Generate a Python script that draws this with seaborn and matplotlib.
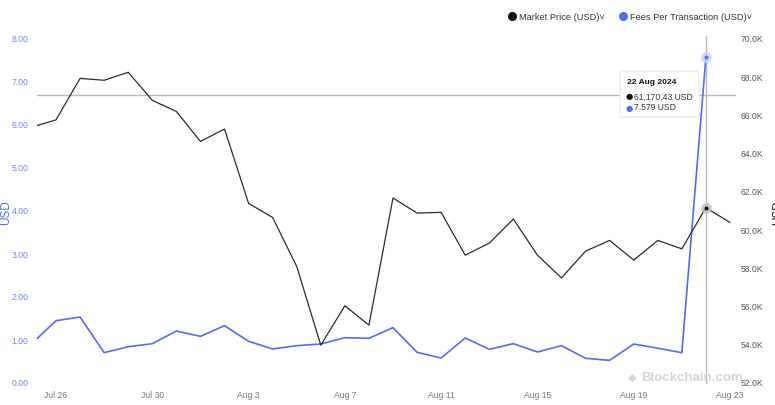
import numpy as np
import pandas as pd
import matplotlib
matplotlib.use("Agg")
import matplotlib.pyplot as plt
import matplotlib.dates as mdates
from matplotlib.lines import Line2D
from matplotlib.patches import FancyBboxPatch
import seaborn as sns

# ---------------- data ----------------
dates = pd.date_range("2024-07-25", "2024-08-23", freq="D")
market_price = [65390, 65770, 67940, 67840, 68260, 66790, 66210, 64640, 65290, 61400,
                60660, 58100, 53980, 56040, 55030, 61680, 60890, 60930, 58690, 59320,
                60580, 58690, 57500, 58900, 59460, 58430, 59460, 59020, 61170.43, 60400]
fees_per_tx = [0.92, 1.449, 1.535, 0.705, 0.844, 0.914, 1.209, 1.085, 1.333, 0.969,
               0.791, 0.868, 0.907, 1.054, 1.039, 1.287, 0.713, 0.581, 1.047, 0.783,
               0.915, 0.721, 0.868, 0.574, 0.527, 0.907, 0.81, 0.705, 7.579, np.nan]
tick_dates = ["2024-07-26", "2024-07-30", "2024-08-03", "2024-08-07",
              "2024-08-11", "2024-08-15", "2024-08-19", "2024-08-23"]
tick_labels = ["Jul 26", "Jul 30", "Aug 3", "Aug 7", "Aug 11", "Aug 15", "Aug 19", "Aug 23"]
left_ticks = [0, 1, 2, 3, 4, 5, 6, 7, 8]
right_ticks = [52000, 54000, 56000, 58000, 60000, 62000, 64000, 66000, 68000, 70000]
hover_date = "2024-08-22"
hover_price = 61170.43
hover_fee = 7.579
cursor_fee_level = 6.70

df = pd.DataFrame({"date": dates, "price": market_price, "fee": fees_per_tx})

# ---------------- style ----------------
sns.set_theme(style="white")
plt.rcParams["font.family"] = ["Liberation Sans", "DejaVu Sans"]

BLUE = "#4f6ef7"
BLUE_TXT = "#6d86f2"
BLACK = "#2b2b2b"

W, H = 775, 405
fig = plt.figure(figsize=(W / 100, H / 100), dpi=100)
ax = fig.add_axes([37 / W, 22 / H, (736 - 37) / W, 344 / H])
ax2 = ax.twinx()

sns.lineplot(data=df, x="date", y="fee", ax=ax, color=BLUE, linewidth=1.2,
             estimator=None, zorder=3)
sns.lineplot(data=df, x="date", y="price", ax=ax2, color=BLACK, linewidth=0.9,
             estimator=None, zorder=3)

x0 = mdates.date2num(pd.Timestamp("2024-07-25")) + 0.21
x1 = mdates.date2num(pd.Timestamp("2024-08-23")) + 0.25
ax.set_xlim(x0, x1)
ax.set_ylim(0, 8)
ax2.set_ylim(52000, 70000)

ax.set_xticks([mdates.date2num(pd.Timestamp(d)) for d in tick_dates])
ax.set_xticklabels(tick_labels)
ax.set_yticks(left_ticks)
ax.set_yticklabels([f"{v:.2f}" for v in left_ticks])
ax2.set_yticks(right_ticks)
ax2.set_yticklabels([f"{v/1000:.1f}K" for v in right_ticks])

ax.tick_params(axis="x", labelsize=6.2, colors="#777777", length=0, pad=6)
ax.tick_params(axis="y", labelsize=6.2, colors=BLUE_TXT, length=0, pad=6)
ax2.tick_params(axis="y", labelsize=6.2, colors="#555555", length=0, pad=3.5)
for a in (ax, ax2):
    for s in a.spines.values():
        s.set_visible(False)
    a.set_xlabel("")
    a.set_ylabel("")
    a.grid(False)

# crosshair
hx = mdates.date2num(pd.Timestamp(hover_date))
ax.axvline(hx, color="#bbbbbb", linewidth=1, zorder=1, ymin=0, ymax=1.01, clip_on=False)
ax.axhline(cursor_fee_level, color="#bbbbbb", linewidth=1, zorder=1)

# hover points
ax2.scatter([hx], [hover_price], s=60, color="#bdbdbd", alpha=0.8, zorder=4, linewidths=0)
ax2.scatter([hx], [hover_price], s=8, color="#111111", zorder=5, linewidths=0)
ax.scatter([hx], [hover_fee], s=60, color="#c9d0f5", alpha=0.8, zorder=4, linewidths=0)
ax.scatter([hx], [hover_fee], s=8, color=BLUE, zorder=5, linewidths=0)

# axis titles
fig.text(0.5 / W, 1 - 213 / H, "USD", rotation=90, ha="left", va="center",
         fontsize=8.5, color=BLUE)
fig.text(772 / W, 1 - 213 / H, "USD", rotation=90, ha="left", va="center",
         fontsize=8.5, color="#222222")

# tooltip
box = FancyBboxPatch((620 / W, 1 - 117 / H), 79 / W, 46 / H, boxstyle="round,pad=0,rounding_size=0.004",
                     transform=fig.transFigure, facecolor="white", edgecolor="#e6e6e6",
                     linewidth=0.8, zorder=10)
fig.add_artist(box)
fig.text(627 / W, 1 - 82 / H, "22 Aug 2024", fontsize=6, fontweight="bold",
         color="#111111", va="center", ha="left", zorder=11)
fig.text(626 / W, 1 - 97 / H, "●", fontsize=6, color="#111111", va="center", ha="left", zorder=11,
         family="DejaVu Sans")
fig.text(634 / W, 1 - 97 / H, "61,170.43 USD", fontsize=6.2, color="#333333",
         va="center", ha="left", zorder=11)
fig.text(626 / W, 1 - 108 / H, "●", fontsize=6, color=BLUE, va="center", ha="left", zorder=11,
         family="DejaVu Sans")
fig.text(634 / W, 1 - 108 / H, "7.579 USD", fontsize=6.2, color="#333333",
         va="center", ha="left", zorder=11)

# legend
handles = [Line2D([], [], marker="o", linestyle="", color="#111111", markersize=5.5),
           Line2D([], [], marker="o", linestyle="", color=BLUE, markersize=5.5)]
leg = fig.legend(handles, ["Market Price (USD)˅", "Fees Per Transaction (USD)˅"],
                 loc="center right", bbox_to_anchor=(756 / W, 1 - 17 / H), ncol=2,
                 frameon=False, fontsize=6.7, handletextpad=0.3, columnspacing=1.4,
                 handlelength=1.0, borderaxespad=0)
for t in leg.get_texts():
    t.set_color("#333333")

# watermark
fig.text(632 / W, 1 - 378 / H, "◆", fontsize=8, color="#d5d5d5", ha="center", va="center",
         family="DejaVu Sans")
fig.text(641 / W, 1 - 378 / H, "Blockchain.com", fontsize=9.5, fontweight="bold",
         color="#d5d5d5", ha="left", va="center")

fig.savefig("out.png", dpi=100)
